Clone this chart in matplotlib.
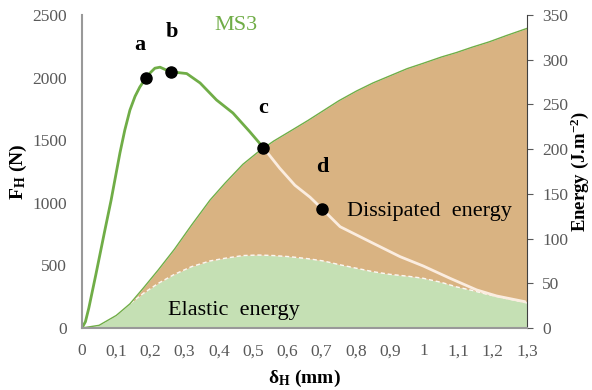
import matplotlib.pyplot as plt
from matplotlib.ticker import FuncFormatter

plt.rcParams['font.family'] = ['Liberation Serif', 'DejaVu Serif']
plt.rcParams['mathtext.fontset'] = 'custom'
plt.rcParams['mathtext.rm'] = 'Liberation Serif'
plt.rcParams['mathtext.bf'] = 'Liberation Serif:bold'
plt.rcParams['mathtext.it'] = 'Liberation Serif:italic'

# force curve F_H (N) vs displacement (mm)
force_x = [0, 0.01, 0.02, 0.04, 0.067, 0.085, 0.1, 0.111, 0.125, 0.14, 0.155, 0.169,
           0.187, 0.2, 0.213, 0.228, 0.245, 0.26, 0.28, 0.306, 0.345, 0.393, 0.441,
           0.49, 0.53, 0.578, 0.622, 0.666, 0.702, 0.754, 0.851, 0.929, 0.997, 1.075,
           1.153, 1.211, 1.294]
force = [0, 50, 160, 420, 783, 1020, 1240, 1400, 1580, 1740, 1850, 1925,
         1997, 2040, 2075, 2083, 2062, 2045, 2040, 2032, 1957, 1821, 1717,
         1568, 1440, 1275, 1140, 1045, 950, 809, 676, 570, 495, 397,
         304, 256, 210]

# energy curves (J.m-2)
energy_x = [0, 0.05, 0.1, 0.14, 0.18, 0.223, 0.27, 0.32, 0.374, 0.418, 0.47, 0.515,
            0.56, 0.608, 0.66, 0.705, 0.75, 0.802, 0.85, 0.9, 0.95, 0.997, 1.05,
            1.094, 1.14, 1.19, 1.24, 1.3]
total_energy = [0, 3, 14, 27, 45, 65, 88, 115, 143, 162, 183, 197,
                209, 220, 232, 243, 254, 265, 274, 282, 290, 296, 303,
                308, 314, 320, 327, 335]
elastic_energy = [0, 3, 14, 27, 39, 50, 60, 68.6, 75, 78, 81, 81.6,
                  81, 79.7, 77.5, 75, 71, 66.8, 63, 60, 58, 55.6, 51,
                  46, 42, 37, 33, 28]

# marked points a-d
point_names = ['a', 'b', 'c', 'd']
point_x = [0.187, 0.26, 0.53, 0.702]
point_f = [1997, 2045, 1440, 950]

x_ticks = [i / 10 for i in range(14)]

green = '#70AD47'
brown = '#D9B382'
light_green = '#C5E0B4'
gray = '#595959'

fig = plt.figure(figsize=(5.92, 3.9), dpi=100)
ax = fig.add_axes([0.1385, 0.159, 0.7517, 0.8026])
ax2 = ax.twinx()
ax.set_zorder(ax2.get_zorder() + 1)
ax.patch.set_visible(False)

# energy areas on the right axis
ax2.fill_between(energy_x, 0, elastic_energy, color=light_green, lw=0)
ax2.fill_between(energy_x, elastic_energy, total_energy, color=brown, lw=0)
ax2.plot(energy_x, elastic_energy, color='white', lw=1, ls=(0, (3, 2)), alpha=0.9)
ax2.plot(energy_x, total_energy, color=green, lw=1)

# force curve: green up to c, pale after it
ic = force_x.index(0.53)
ax.plot(force_x[:ic + 1], force[:ic + 1], color=green, lw=2, solid_capstyle='round')
ax.plot(force_x[ic:], force[ic:], color='#FBEDE0', lw=2, solid_capstyle='round')
ax.plot(point_x, point_f, 'o', color='black', ms=8, zorder=5)

label_pos = [(0.169, 2260), (0.262, 2367), (0.53, 1755), (0.703, 1288)]
for name, (lx, ly) in zip(point_names, label_pos):
    ax.text(lx, ly, name, fontsize=16, fontweight='bold', ha='center', va='center')

ax.text(0.449, 2412, 'MS3', color=green, fontsize=16, ha='center', va='center')
ax.text(0.773, 928, 'Dissipated  energy', fontsize=16, ha='left', va='center')
ax.text(0.252, 136, 'Elastic  energy', fontsize=16, ha='left', va='center')

ax.set_xlim(0, 1.3)
ax.set_ylim(0, 2500)
ax2.set_ylim(0, 350)
ax.set_xticks(x_ticks)
ax.set_yticks(range(0, 2501, 500))
ax2.set_yticks(range(0, 351, 50))
ax.xaxis.set_major_formatter(FuncFormatter(lambda v, p: f"{v:g}".replace('.', ',')))

ax.tick_params(length=0, labelcolor=gray, labelsize=12.5)
ax.tick_params(axis='x', pad=11)
ax.tick_params(axis='y', pad=11)
ax2.tick_params(axis='y', direction='out', length=4, width=0.8, color=gray,
                labelcolor=gray, labelsize=12.5, pad=7)

for s in ['top', 'right']:
    ax.spines[s].set_visible(False)
for s in ['left', 'bottom']:
    ax.spines[s].set_color('#999999')
    ax.spines[s].set_linewidth(1.5)
for s in ['top', 'left', 'bottom']:
    ax2.spines[s].set_visible(False)
ax2.spines['right'].set_color('#404040')
ax2.spines['right'].set_linewidth(0.8)

ax.set_ylabel(r'$\mathbf{F_H}$ (N)', fontsize=14, fontweight='bold')
ax.yaxis.set_label_coords(-0.118, 0.5)
ax.set_xlabel(r'$\mathbf{δ_H}$ (mm)', fontsize=14, fontweight='bold')
ax.xaxis.set_label_coords(0.5, -0.128)
ax2.set_ylabel(r'Energy (J.m$\mathbf{^{-2}}$)', fontsize=13.5, fontweight='bold')
ax2.yaxis.set_label_coords(1.093, 0.5)

fig.savefig('out.png', dpi=100)
